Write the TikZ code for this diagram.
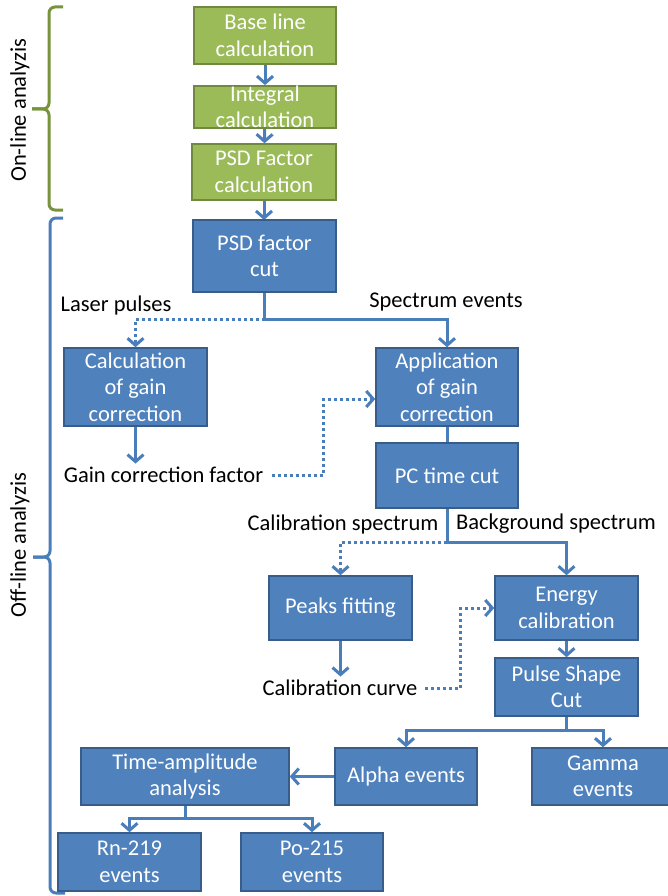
\documentclass[tikz,border=0pt]{standalone}
\usepackage{fontspec}
\setmainfont{Carlito}
\usetikzlibrary{arrows.meta, calc}

\definecolor{boxblue}{HTML}{4F81BD}
\definecolor{boxedge}{HTML}{385D8A}
\definecolor{boxgreen}{HTML}{9BBB59}
\definecolor{greenedge}{HTML}{71893F}
\definecolor{linkblue}{HTML}{4A7EBB}
\definecolor{bracegreen}{HTML}{77933C}

\begin{document}
\begin{tikzpicture}[x=1pt, y=-1pt,
    font=\fontsize{22.5}{26.5}\selectfont,
    stage/.style={rectangle, draw=boxedge, fill=boxblue, line width=1.5pt, text=white, align=center, inner sep=0pt},
    online/.style={stage, draw=greenedge, fill=boxgreen},
    flow/.style={draw=linkblue, line width=3pt, -{Straight Barb[length=7pt, width=16pt, line width=3pt]}},
    plain/.style={draw=linkblue, line width=3pt},
    dotflow/.style={flow, dash pattern=on 3pt off 3pt},
    bracepath/.style={line width=3pt, rounded corners=6pt}]
    \useasboundingbox (0,0) rectangle (668,896);
    % braces on the left
    \draw[bracepath, bracegreen] (63,7) -- (49,7) -- (49,109) -- (32,109);
    \draw[bracepath, bracegreen] (32,109) -- (49,109) -- (49,210) -- (63,210);
    \draw[bracepath, linkblue] (63,218) -- (50,218) -- (50,557) -- (33,557);
    \draw[bracepath, linkblue] (33,557) -- (50,557) -- (50,893) -- (65,893);
    \node[rotate=90] at (20,110) (onlab){On-line analyzis};
    \node[rotate=90] at (20,545) (offlab){Off-line analyzis};
    % on-line part
    \node[online, minimum width=142pt, minimum height=57pt] at (265,35.5) (base){Base line\\calculation};
    \node[online, minimum width=142pt, minimum height=42pt] at (265,107) (integ){Integral\\calculation};
    \node[online, minimum width=144pt, minimum height=56pt] at (264,172) (psdcalc){PSD Factor\\calculation};
    \draw[flow] (base) -- (integ);
    \draw[flow] (integ) -- (psdcalc);
    \draw[flow] (psdcalc) -- (264,220);
    % off-line part
    \node[stage, minimum width=143pt, minimum height=72pt] at (264.5,256) (psdcut){PSD factor\\cut};
    \coordinate (s1) at (264.5,319);
    \node at (116,305) (laser){Laser pulses};
    \node at (446,302) (spec){Spectrum events};
    \node[stage, minimum width=143pt, minimum height=78pt] at (135.5,387) (gaincalc){Calculation\\of gain\\correction};
    \node[stage, minimum width=142pt, minimum height=78pt] at (447,387) (gainapp){Application\\of gain\\correction};
    \node at (163.5,475) (gcf){Gain correction factor};
    \node[stage, minimum width=142pt, minimum height=65pt] at (447,475.5) (pccut){PC time cut};
    \draw[plain] (psdcut) -- (s1);
    \draw[flow] (s1) -| (gainapp);
    \draw[dotflow] (s1) -| (gaincalc);
    \draw[flow] (gaincalc) -- (gaincalc.south |- gcf.north);
    \draw[dotflow] ([xshift=5pt]gcf.east) -- ++(52,0) |- ($(gainapp.west)+(0,12)$);
    \draw[plain] (gainapp) -- (pccut);
    \coordinate (s2) at (447,542);
    \node at (343,524) (calspec){Calibration spectrum};
    \node at (556,524) (bgspec){Background spectrum};
    \node[stage, minimum width=143pt, minimum height=64pt] at (340.5,608) (peaks){Peaks fitting};
    \node[stage, minimum width=143pt, minimum height=64pt] at (566.5,608) (energy){Energy\\calibration};
    \node at (340,688) (calcurve){Calibration curve};
    \node[stage, minimum width=143pt, minimum height=58pt] at (566.5,687) (pulse){Pulse Shape\\Cut};
    \draw[plain] (pccut) -- (s2);
    \draw[flow] (s2) -| (energy);
    \draw[dotflow] (s2) -| (peaks);
    \draw[flow] (peaks) -- (peaks.south |- calcurve.north);
    \draw[dotflow] ([xshift=4pt]calcurve.east) -- ++(36,0) |- (energy.west);
    \draw[flow] (energy) -- (pulse);
    \coordinate (s3) at (566.5,730);
    \node[stage, minimum width=142pt, minimum height=57pt] at (406,776.5) (alpha){Alpha events};
    \node[stage, minimum width=142pt, minimum height=57pt] at (603,776.5) (gamma){Gamma\\events};
    \node[stage, minimum width=208pt, minimum height=57pt] at (185,776.5) (tamp){Time-amplitude\\analysis};
    \draw[plain] (pulse) -- (s3);
    \draw[flow] (s3) -| (alpha);
    \draw[flow] (s3) -| (gamma);
    \draw[flow] (alpha) -- (tamp);
    \coordinate (s4) at (185,818);
    \node[stage, minimum width=143pt, minimum height=58pt] at (129.5,862) (rn){Rn-219\\events};
    \node[stage, minimum width=142pt, minimum height=58pt] at (312,862) (po){Po-215\\events};
    \draw[plain] (tamp) -- (s4);
    \draw[flow] (s4) -| (rn);
    \draw[flow] (s4) -| (po);
\end{tikzpicture}
\end{document}
